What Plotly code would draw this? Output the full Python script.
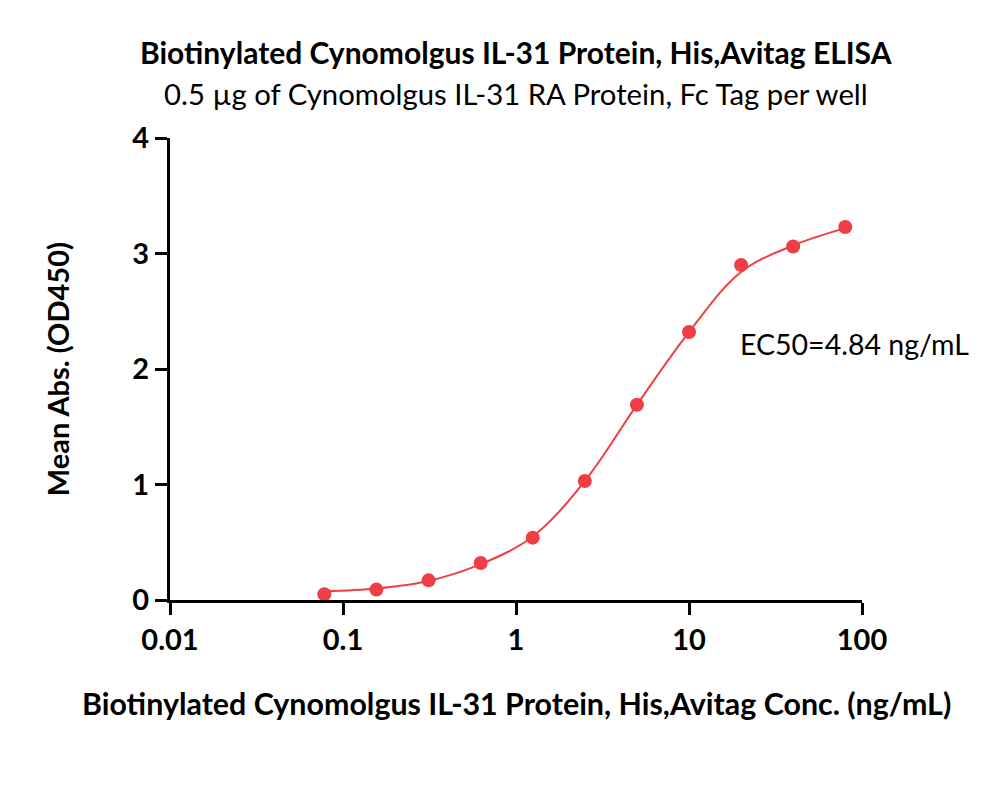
import plotly.graph_objects as go

# ELISA readings (mean OD450) per concentration (ng/mL)
conc = [0.078, 0.156, 0.3125, 0.625, 1.25, 2.5, 5, 10, 20, 40, 80]
od450 = [0.05, 0.09, 0.17, 0.32, 0.54, 1.03, 1.69, 2.32, 2.90, 3.06, 3.23]
# fitted curve height at each concentration
fit_od450 = [0.075, 0.10, 0.165, 0.31, 0.55, 1.03, 1.69, 2.32, 2.84, 3.07, 3.22]

x_ticks = [0.01, 0.1, 1, 10, 100]
x_tick_text = ["0.01", "0.1", "1", "10", "100"]
y_ticks = [0, 1, 2, 3, 4]

RED = "#EF3E45"
FONT = "Lato, Open Sans, sans-serif"

fig = go.Figure()

fig.add_trace(go.Scatter(
    x=conc, y=fit_od450, mode="lines",
    line=dict(color=RED, width=2, shape="spline", smoothing=1.0),
    hoverinfo="skip", showlegend=False,
))
fig.add_trace(go.Scatter(
    x=conc, y=od450, mode="markers",
    marker=dict(color=RED, size=14),
    showlegend=False,
))


def text(x, y, s, size, xanchor="center", yref="paper", angle=0, xref="paper"):
    fig.add_annotation(x=x, y=y, xref=xref, yref=yref, text=s, showarrow=False,
                       xanchor=xanchor, yanchor="middle", textangle=angle,
                       font=dict(family=FONT, size=size, color="#000"))


text(0.5, 1.186, "<b>Biotinylated Cynomolgus IL-31 Protein, His,Avitag ELISA</b>", 30)
text(0.5, 1.097, "0.5 µg of Cynomolgus IL-31 RA Protein, Fc Tag per well", 29.3)
text(0.5, -0.223, "<b>Biotinylated Cynomolgus IL-31 Protein, His,Avitag Conc. (ng/mL)</b>", 30.4)
text(-0.163, 0.5, "<b>Mean Abs. (OD450)</b>", 29, angle=-90)
text(0.821, 2.22, "EC50=4.84 ng/mL", 28.5, xanchor="left", yref="y")

fig.update_layout(
    width=1000, height=796,
    margin=dict(l=162, r=146, t=130, b=204),
    paper_bgcolor="white", plot_bgcolor="white",
    font=dict(family=FONT, color="#000"),
    xaxis=dict(
        type="log", range=[-2, 2],
        tickvals=x_ticks, ticktext=x_tick_text,
        showline=True, linecolor="#000", linewidth=3,
        ticks="outside", ticklen=12, tickwidth=3, tickcolor="#000",
        showgrid=False, zeroline=False,
        tickfont=dict(family=FONT, size=29, color="#000", weight="bold"),
    ),
    yaxis=dict(
        range=[0, 4], tickvals=y_ticks,
        showline=True, linecolor="#000", linewidth=3,
        ticks="outside", ticklen=12, tickwidth=3, tickcolor="#000",
        showgrid=False, zeroline=False,
        tickfont=dict(family=FONT, size=29, color="#000", weight="bold"),
    ),
)

fig.write_html("out.html")
